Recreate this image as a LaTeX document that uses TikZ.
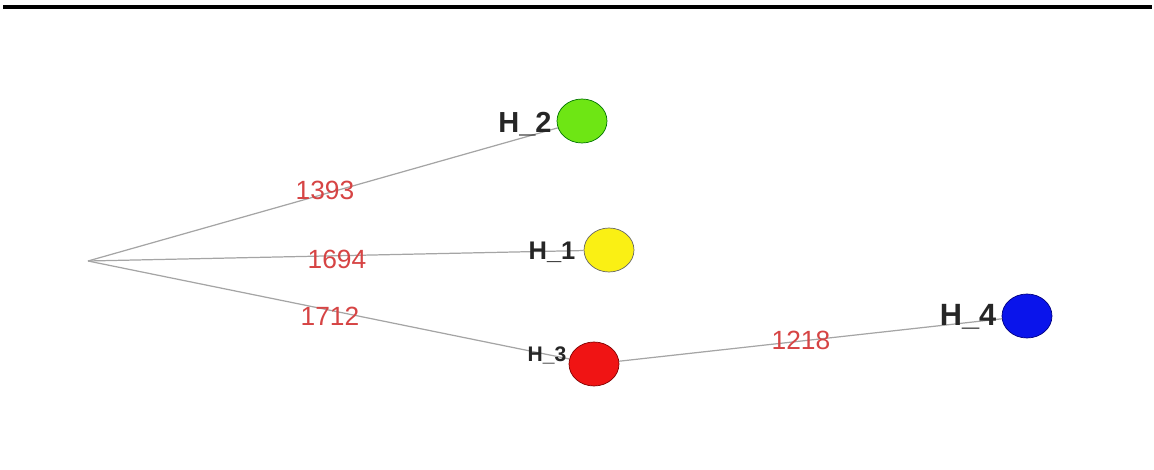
\documentclass[tikz,border=0pt]{standalone}
\usepackage{fontspec}
\setmainfont{Liberation Sans}
\usepackage{xcolor}
\usepackage{tikz}
\usetikzlibrary{positioning, shapes.geometric}

\definecolor{edgegray}{RGB}{165,165,165}
\definecolor{weightred}{RGB}{214,68,68}
\definecolor{hgreen}{RGB}{110,230,20}
\definecolor{hyellow}{RGB}{250,240,20}
\definecolor{hred}{RGB}{240,20,20}
\definecolor{hblue}{RGB}{10,20,235}

\begin{document}
\begin{tikzpicture}[
  x=0.02cm, y=-0.02cm,
  hnode/.style={ellipse, minimum width=1cm, minimum height=0.88cm, inner sep=0pt},
  hname/.style={font=\bfseries, inner sep=0pt, text=black!85},
  weight/.style={text=weightred, inner sep=1pt, font=\fontsize{15}{15}\selectfont},
  link/.style={draw=edgegray, line width=0.7pt}
]
\useasboundingbox (0,0) rectangle (1154,470);
% heading rule
\draw[line width=2.2pt] (3,7) -- (1152,7);

% tree
\coordinate (root) at (88,261);
\node[hnode, draw=green!45!black, fill=hgreen] (h2) at (582,121) {};
\node[hnode, draw=black!60, fill=hyellow] (h1) at (609,250) {};
\node[hnode, draw=red!50!black, fill=hred] (h3) at (594,364) {};
\node[hnode, draw=blue!50!black, fill=hblue] (h4) at (1027,316) {};

\draw[link] (root) -- (h2);
\draw[link] (root) -- (h1);
\draw[link] (root) -- (h3);
\draw[link] (h3) -- (h4);

\node[hname, font=\fontsize{16.5}{16.5}\bfseries\selectfont] (n2) at (525,124) {H\_2};
\node[hname, font=\fontsize{14.5}{14.5}\bfseries\selectfont] (n1) at (552,252) {H\_1};
\node[hname, font=\fontsize{12}{12}\bfseries\selectfont] (n3) at (547,355) {H\_3};
\node[hname, font=\fontsize{17.5}{17.5}\bfseries\selectfont] (n4) at (968,317) {H\_4};

\node[weight] (w2) at (325,190) {1393};
\node[weight] (w1) at (337,259) {1694};
\node[weight] (w3) at (330,316) {1712};
\node[weight] (w4) at (801,340) {1218};
\end{tikzpicture}
\end{document}
